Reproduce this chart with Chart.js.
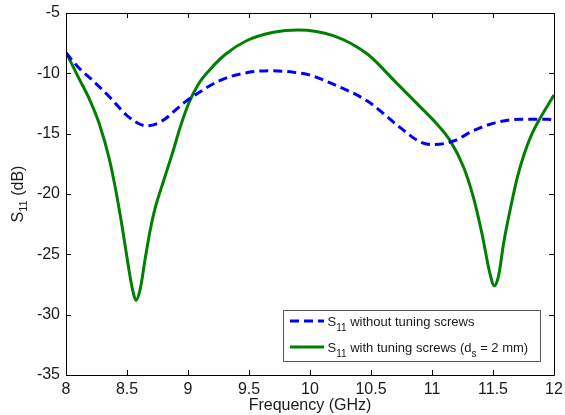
<!DOCTYPE html>
<html>
<head>
<meta charset="utf-8">
<script src="https://cdn.jsdelivr.net/npm/chart.js@4/dist/chart.umd.min.js"></script>
<style>
html,body{margin:0;padding:0;background:#fff;}
#wrap{width:565px;height:415px;position:relative;}
</style>
</head>
<body>
<div id="wrap"><canvas id="c" width="565" height="415"></canvas></div>
<script>
// Data
const freqWithout = [8.0, 8.11, 8.22, 8.38, 8.50, 8.66, 8.78, 8.96, 9.05, 9.26, 9.43, 9.67, 9.87, 10.0, 10.19, 10.47, 10.74, 10.906, 11.015, 11.18, 11.34, 11.535, 11.73, 11.95, 12.0];
const s11Without  = [-8.3, -9.6, -10.6, -12.2, -13.5, -14.35, -14.0, -12.5, -11.85, -10.6, -10.05, -9.78, -9.92, -10.15, -10.9, -12.3, -14.5, -15.7, -15.9, -15.6, -14.75, -14.05, -13.8, -13.8, -13.9];
const freqWith = [8.0, 8.11, 8.19, 8.27, 8.355, 8.41, 8.465, 8.51, 8.545, 8.575, 8.61, 8.65, 8.69, 8.73, 8.80, 8.87, 8.935, 9.005, 9.085, 9.17, 9.31, 9.48, 9.70, 9.90, 10.19, 10.47, 10.69, 10.906, 11.04, 11.15, 11.26, 11.34, 11.41, 11.475, 11.51, 11.545, 11.59, 11.645, 11.70, 11.755, 11.82, 11.89, 11.97, 12.0];
const s11With  = [-8.26, -10.5, -12.1, -14.1, -17.1, -19.8, -23.0, -25.9, -27.9, -28.8, -27.8, -25.3, -23.0, -21.2, -18.9, -16.7, -14.5, -12.5, -10.9, -9.8, -8.4, -7.3, -6.6, -6.4, -6.87, -8.4, -10.6, -12.8, -14.2, -15.6, -17.8, -20.3, -23.3, -26.6, -27.6, -26.8, -23.9, -21.1, -18.6, -16.7, -15.0, -13.65, -12.3, -11.8];
const xTicks = [8, 8.5, 9, 9.5, 10, 10.5, 11, 11.5, 12];
const yTicks = [-35, -30, -25, -20, -15, -10, -5];
const legendLabels = [
  {main: 'S', sub: '11', rest: ' without tuning screws', rest2: null},
  {main: 'S', sub: '11', rest: ' with tuning screws (d', sub2: 's', rest2: ' = 2 mm)'}
];
const xTitle = 'Frequency (GHz)';
const yTitle = {main: 'S', sub: '11', rest: ' (dB)'};

const FONT = '"Liberation Sans", Arial, sans-serif';
const TEXT = '#1a1a1a';

const toPts = (xs, ys) => xs.map((x, i) => ({x: x, y: ys[i]}));

const framePlugin = {
  id: 'frame',
  afterDatasetsDraw(chart) {
    const ctx = chart.ctx, a = chart.chartArea;
    const xs = chart.scales.x, ys = chart.scales.y;
    ctx.save();
    ctx.strokeStyle = '#000';
    ctx.lineWidth = 1;
    ctx.beginPath();
    ctx.rect(Math.round(a.left) + 0.5, Math.round(a.top) + 0.5, Math.round(a.right - a.left), Math.round(a.bottom - a.top));
    ctx.stroke();
    const L = 5;
    ctx.beginPath();
    xTicks.forEach(v => {
      const px = Math.round(xs.getPixelForValue(v)) + 0.5;
      ctx.moveTo(px, a.bottom); ctx.lineTo(px, a.bottom - L);
      ctx.moveTo(px, a.top); ctx.lineTo(px, a.top + L);
    });
    yTicks.forEach(v => {
      const py = Math.round(ys.getPixelForValue(v)) + 0.5;
      ctx.moveTo(a.left, py); ctx.lineTo(a.left + L, py);
      ctx.moveTo(a.right, py); ctx.lineTo(a.right - L, py);
    });
    ctx.stroke();
    ctx.restore();
  },
  afterDraw(chart) {
    const ctx = chart.ctx, a = chart.chartArea;
    ctx.save();
    // Y title with subscript, rotated
    ctx.translate(23, (a.top + a.bottom) / 2);
    ctx.rotate(-Math.PI / 2);
    ctx.fillStyle = TEXT;
    ctx.textBaseline = 'alphabetic';
    const mf = '16px ' + FONT, sf = '11px ' + FONT;
    ctx.font = mf; const w1 = ctx.measureText(yTitle.main).width;
    ctx.font = sf; const w2 = ctx.measureText(yTitle.sub).width;
    ctx.font = mf; const w3 = ctx.measureText(yTitle.rest).width;
    let x = -(w1 + w2 + w3) / 2;
    ctx.font = mf; ctx.fillText(yTitle.main, x, 0); x += w1;
    ctx.font = sf; ctx.fillText(yTitle.sub, x, 4); x += w2;
    ctx.font = mf; ctx.fillText(yTitle.rest, x, 0);
    ctx.restore();

    // Legend
    ctx.save();
    const bx = 283.5, by = 310.5, bw = 257, bh = 51;
    ctx.fillStyle = '#fff';
    ctx.fillRect(bx, by, bw, bh);
    ctx.strokeStyle = '#555';
    ctx.lineWidth = 1;
    ctx.strokeRect(bx, by, bw, bh);
    const ds = chart.data.datasets;
    const rows = [321, 347];
    rows.forEach((ry, i) => {
      const d = ds[i];
      ctx.strokeStyle = d.borderColor;
      ctx.lineWidth = d.borderWidth;
      ctx.setLineDash(d.borderDash || []);
      ctx.beginPath();
      ctx.moveTo(290, ry); ctx.lineTo(324, ry);
      ctx.stroke();
      ctx.setLineDash([]);
      const lf = '13px ' + FONT, lsf = '10px ' + FONT;
      const lab = legendLabels[i];
      let tx = 327.5, base = ry + 4.5;
      ctx.fillStyle = TEXT;
      ctx.font = lf; ctx.fillText(lab.main, tx, base); tx += ctx.measureText(lab.main).width;
      ctx.font = lsf; ctx.fillText(lab.sub, tx, base + 5); tx += ctx.measureText(lab.sub).width;
      ctx.font = lf; ctx.fillText(lab.rest, tx, base); tx += ctx.measureText(lab.rest).width;
      if (lab.sub2) {
        ctx.font = lsf; ctx.fillText(lab.sub2, tx, base + 5); tx += ctx.measureText(lab.sub2).width;
        ctx.font = lf; ctx.fillText(lab.rest2, tx, base);
      }
    });
    ctx.restore();
  }
};

new Chart(document.getElementById('c'), {
  type: 'line',
  data: {
    datasets: [
      {
        label: 'S11 without tuning screws',
        data: toPts(freqWithout, s11Without),
        borderColor: '#0000ff',
        borderWidth: 3,
        borderDash: [9, 5],
        pointRadius: 0,
        cubicInterpolationMode: 'monotone',
        fill: false
      },
      {
        label: 'S11 with tuning screws (ds = 2 mm)',
        data: toPts(freqWith, s11With),
        borderColor: '#008000',
        borderWidth: 3,
        pointRadius: 0,
        cubicInterpolationMode: 'monotone',
        fill: false
      }
    ]
  },
  options: {
    responsive: false,
    animation: false,
    events: [],
    layout: {padding: {top: 13, right: 11, left: 0, bottom: 0}},
    plugins: {legend: {display: false}, tooltip: {enabled: false}},
    scales: {
      x: {
        type: 'linear', min: 8, max: 12,
        afterBuildTicks: s => { s.ticks = xTicks.map(v => ({value: v})); },
        afterFit: s => { s.height = 40; s.paddingLeft = 0; s.paddingRight = 0; },
        grid: {display: false, drawTicks: false},
        border: {display: false},
        ticks: {color: TEXT, font: {family: FONT, size: 16}, padding: 5, maxRotation: 0, autoSkip: false,
                callback: v => String(v)},
        title: {display: true, text: xTitle, color: TEXT, font: {family: FONT, size: 16}, padding: {top: 0, bottom: 0}}
      },
      y: {
        type: 'linear', min: -35, max: -5,
        afterBuildTicks: s => { s.ticks = yTicks.map(v => ({value: v})); },
        afterFit: s => { s.width = 66; s.paddingTop = 0; s.paddingBottom = 0; },
        grid: {display: false, drawTicks: false},
        border: {display: false},
        ticks: {color: TEXT, font: {family: FONT, size: 16}, padding: 6, autoSkip: false,
                callback: v => String(v)}
      }
    }
  },
  plugins: [framePlugin]
});
</script>
</body>
</html>
